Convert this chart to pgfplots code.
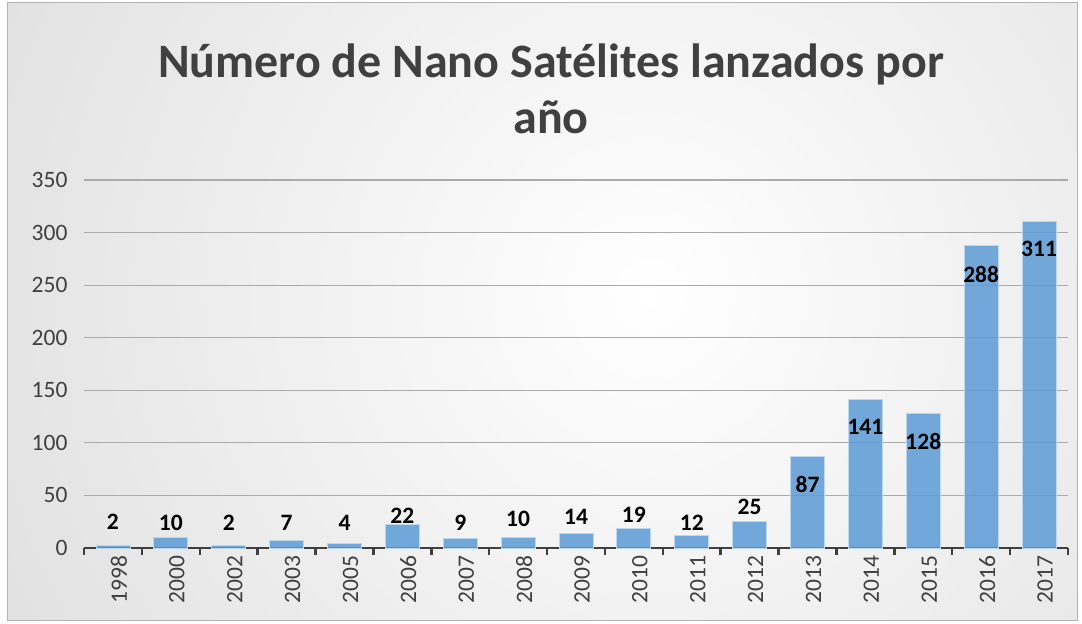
\documentclass[border=0pt]{standalone}
\usepackage{pgfplots}
\pgfplotsset{compat=1.18}
\usepackage{fontspec}
\setmainfont{Carlito}
\definecolor{barc}{RGB}{91,155,213}
\definecolor{txt}{RGB}{64,64,64}
\newcommand\tf{\fontsize{23.5}{28}\selectfont}
\pgfplotstableread{
x v ly
0 2 24.7
1 10 24
2 2 24
3 7 24
4 4 24
5 22 30.4
6 9 24
7 10 27.6
8 14 29.5
9 19 31.4
10 12 24
11 25 39
12 87 60
13 141 115
14 128 101
15 288 260.6
16 311 284.4
}\datatable
\begin{document}
\begin{tikzpicture}[x=1pt,y=1pt]
\path (0,0) rectangle (1082,624);
\begin{scope}
\clip (7,3) rectangle (1077,621);
\shade[inner color=white, outer color=black!21] (650,330) circle (1300);
\end{scope}
\draw[black!30, line width=1pt] (7,3) rectangle (1077,621);
\node[anchor=base, text=txt, font=\fontsize{48}{56}\selectfont\bfseries] at (551,546) {Número de Nano Satélites lanzados por};
\node[anchor=base, text=txt, font=\fontsize{48}{56}\selectfont\bfseries] at (551,490) {año};
\begin{axis}[
  at={(84pt,76pt)}, anchor=south west,
  scale only axis, width=984pt, height=368pt,
  xmin=-0.5, xmax=16.5, ymin=0, ymax=350,
  axis x line*=bottom, axis y line*=left,
  y axis line style={draw=none},
  x axis line style={line width=2.5pt, color=txt},
  ytick={0,50,...,350},
  yticklabels={\tf 0,\tf 50,\tf 100,\tf 150,\tf 200,\tf 250,\tf 300,\tf 350},
  ymajorgrids, grid style={black!33, line width=1.2pt},
  ytick style={draw=none},
  xtick={0,...,16},
  xticklabels={\tf 1998,\tf 2000,\tf 2002,\tf 2003,\tf 2005,\tf 2006,\tf 2007,\tf 2008,\tf 2009,\tf 2010,\tf 2011,\tf 2012,\tf 2013,\tf 2014,\tf 2015,\tf 2016,\tf 2017},
  major x tick style={draw=none},
  minor xtick={-0.5,0.5,...,16.5},
  minor x tick style={line width=2.5pt, color=txt},
  minor tick length=7pt, xtick align=outside,
  tick label style={font=\tf, text=txt},
  yticklabel style={xshift=-13pt},
  xticklabel style={rotate=90, anchor=east, yshift=-6pt},
  clip=false,
]
\addplot[ybar, bar width=34pt, fill=barc, fill opacity=0.85, draw=barc!40!white, line width=0.8pt] table[x=x, y=v] {\datatable};
\addplot[draw=none, mark=none, nodes near coords, point meta=explicit symbolic,
  nodes near coords style={anchor=center, font=\tf\bfseries, text=black}]
  table[x=x, y=ly, meta=v] {\datatable};
\end{axis}
\end{tikzpicture}
\end{document}
